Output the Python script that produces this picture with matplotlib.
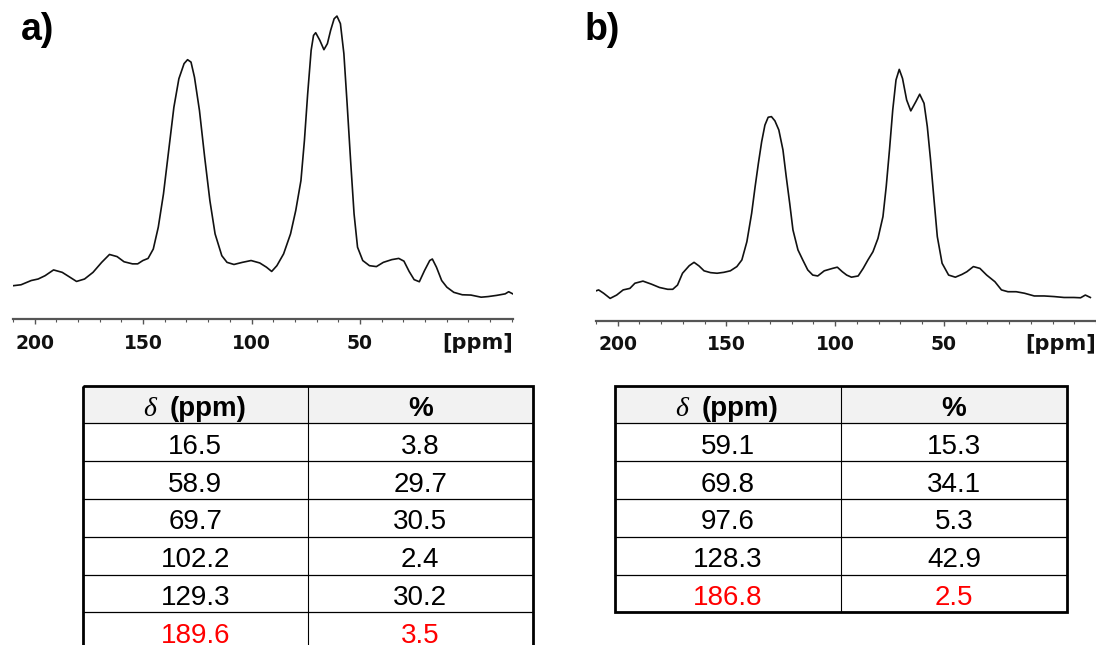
import numpy as np
import matplotlib.pyplot as plt
from matplotlib.patches import Rectangle

W, H = 1096, 645

# spectrum a): shift (ppm) / intensity (a.u., tallest peak = 100)
shift_a = [209.8, 206.3, 201.6, 198.4, 195.2, 191.3, 187.3, 184.2, 180.7, 177.0,
           173.1, 169.1, 165.5, 162.0, 158.8, 154.9, 152.5, 150.1, 147.7, 145.3,
           143.0, 140.6, 138.2, 135.8, 133.5, 131.1, 129.5, 127.9, 126.3, 124.0,
           121.6, 119.2, 116.8, 113.7, 111.3, 108.1, 104.2, 100.2, 96.2, 93.1,
           90.7, 88.3, 85.2, 82.0, 79.6, 77.2, 75.6, 74.1, 72.5, 71.4,
           70.4, 68.5, 66.6, 65.0, 63.5, 61.9, 60.6, 59.0, 57.4, 55.9,
           54.3, 52.7, 51.1, 48.7, 45.6, 42.4, 39.2, 35.3, 32.1, 29.7,
           27.3, 25.0, 22.6, 20.2, 17.8, 16.6, 14.7, 12.3, 9.9, 6.7,
           2.8, -1.2, -5.9, -9.1, -13.1, -17.0, -18.6, -20.5]
int_a = [11.0, 11.3, 12.7, 13.2, 14.3, 16.2, 15.4, 14.0, 12.4, 13.2,
         15.4, 18.7, 21.3, 20.6, 18.9, 18.2, 18.2, 19.3, 20.0, 23.1,
         30.3, 41.3, 55.6, 69.9, 79.3, 84.3, 85.6, 84.8, 79.8, 68.8,
         53.4, 39.1, 28.1, 20.9, 18.7, 18.0, 18.7, 19.3, 18.5, 17.1,
         15.7, 17.6, 21.5, 28.1, 35.8, 45.7, 58.9, 74.3, 88.7, 93.6,
         94.5, 92.0, 88.9, 90.9, 95.3, 99.1, 100.0, 97.5, 87.6, 71.0,
         52.3, 34.7, 23.7, 19.3, 17.6, 17.3, 18.7, 19.6, 20.0, 19.1,
         15.7, 13.0, 12.3, 16.0, 19.3, 19.8, 17.1, 12.7, 10.5, 8.8,
         8.0, 7.9, 7.2, 7.4, 7.8, 8.3, 9.0, 8.3]

# spectrum b)
shift_b = [210.3, 208.8, 206.5, 203.5, 200.5, 197.5, 194.4, 192.1, 188.4, 184.5,
           180.8, 177.0, 174.7, 172.5, 170.2, 167.1, 164.9, 162.6, 160.3, 157.3,
           154.3, 151.2, 148.2, 145.2, 142.9, 140.6, 138.4, 136.8, 135.3, 133.8,
           132.3, 130.8, 129.3, 127.7, 125.9, 124.0, 122.5, 120.9, 119.4, 117.1,
           114.9, 112.6, 110.3, 108.0, 105.0, 101.2, 99.0, 96.7, 94.7, 92.5,
           89.4, 87.1, 84.9, 82.6, 80.3, 78.0, 76.5, 75.0, 73.5, 72.0,
           70.5, 69.0, 67.1, 65.2, 62.9, 61.1, 59.1, 57.6, 56.1, 54.5,
           53.0, 50.8, 47.8, 44.7, 41.7, 39.4, 36.4, 33.4, 30.3, 26.5,
           23.5, 20.5, 16.7, 12.9, 8.4, 3.8, -0.7, -5.3, -9.8, -12.9,
           -15.1, -17.4]
int_b = [9.7, 10.1, 9.0, 7.3, 8.4, 10.1, 10.6, 12.3, 13.0, 12.0,
         10.9, 10.3, 10.3, 11.7, 15.6, 18.1, 19.2, 18.0, 16.4, 15.8,
         15.6, 15.9, 16.4, 17.8, 20.0, 26.0, 35.4, 44.2, 51.9, 59.0,
         64.5, 67.1, 67.3, 65.9, 62.9, 56.3, 47.5, 38.7, 29.9, 23.3,
         20.0, 16.7, 15.0, 14.7, 16.4, 17.2, 17.6, 16.1, 15.0, 14.3,
         14.7, 17.2, 20.0, 22.7, 27.1, 34.3, 44.2, 56.3, 69.5, 79.4,
         82.9, 79.9, 72.8, 69.2, 72.2, 74.7, 71.7, 64.0, 53.0, 39.8,
         27.7, 18.9, 15.0, 14.3, 15.2, 16.1, 17.8, 17.2, 15.0, 12.8,
         10.1, 9.5, 9.5, 9.0, 8.1, 8.1, 7.9, 7.6, 7.6, 7.5,
         8.4, 7.6]

major_ticks = [200, 150, 100, 50]
major_labels = ["200", "150", "100", "50"]

table_a_shift = ["16.5", "58.9", "69.7", "102.2", "129.3", "189.6"]
table_a_pct = ["3.8", "29.7", "30.5", "2.4", "30.2", "3.5"]
table_b_shift = ["59.1", "69.8", "97.6", "128.3", "186.8"]
table_b_pct = ["15.3", "34.1", "5.3", "42.9", "2.5"]


def px_box(left, right, bottom, top):
    # pixel box (y measured from top) -> figure fraction
    return [left / W, 1 - bottom / H, (right - left) / W, (bottom - top) / H]


def spectrum(fig, box, x, y, xlim, ytop):
    ax = fig.add_axes(px_box(*box))
    ax.plot(x, y, color="#111111", lw=1.2, solid_joinstyle="round")
    ax.set_xlim(*xlim)
    ax.set_ylim(0, ytop)
    for s in ("top", "left", "right"):
        ax.spines[s].set_visible(False)
    ax.spines["bottom"].set_color("#555555")
    ax.spines["bottom"].set_linewidth(1.6)
    ax.set_yticks([])
    ax.set_xticks(major_ticks)
    ax.set_xticklabels(major_labels, fontsize=13.5, fontweight="bold",
                       family="DejaVu Sans", color="#111111")
    ax.set_xticks(np.arange(-20, 211, 10), minor=True)
    ax.tick_params(axis="x", which="major", length=3.5, width=1.0,
                   color="#555555", pad=7)
    ax.tick_params(axis="x", which="minor", length=2.5, width=0.8,
                   color="#555555")
    ax.text(1.0, -0.045, "[ppm]", transform=ax.transAxes, ha="right", va="top",
            fontsize=15, fontweight="bold", family="DejaVu Sans", color="#111111")
    return ax


def table(ax, left, top, col_w, shifts, pcts):
    head_h, row_h = 37.8, 37.8
    n = len(shifts)
    bottom = top + head_h + n * row_h
    ax.add_patch(Rectangle((left, top), 2 * col_w, head_h, facecolor="#f2f2f2",
                           edgecolor="none", zorder=1))
    for k in range(n):
        yl = top + head_h + k * row_h
        ax.plot([left, left + 2 * col_w], [yl, yl], color="black", lw=0.9, zorder=2)
    ax.plot([left + col_w, left + col_w], [top, bottom], color="black", lw=0.8, zorder=2)
    ax.add_patch(Rectangle((left, top), 2 * col_w, bottom - top, facecolor="none",
                           edgecolor="black", lw=2.0, zorder=3))
    c1 = left + col_w / 2
    c2 = left + 1.5 * col_w
    base = top + 30.5
    ax.text(c1 - 46, base, "δ", ha="center", va="baseline", fontsize=20,
            family="Liberation Serif", style="italic")
    ax.text(c1 - 26, base, "(ppm)", ha="left", va="baseline", fontsize=20,
            family="Liberation Sans", fontweight="bold")
    ax.text(c2, base, "%", ha="center", va="baseline", fontsize=20,
            family="Liberation Sans", fontweight="bold")
    for k in range(n):
        colr = "#ff0000" if k == n - 1 else "black"
        yb = top + head_h + k * row_h + 30.5
        ax.text(c1, yb, shifts[k], ha="center", va="baseline", fontsize=20,
                family="Liberation Sans", color=colr)
        ax.text(c2, yb, pcts[k], ha="center", va="baseline", fontsize=20,
                family="Liberation Sans", color=colr)


fig = plt.figure(figsize=(W / 100, H / 100), dpi=100)

spectrum(fig, (13, 513, 319, 10), shift_a, int_a, (209.9, -20.6), 102.0)
spectrum(fig, (596, 1096, 320.5, 10), shift_b, int_b, (209.9, -17.4), 102.5)

over = fig.add_axes([0, 0, 1, 1])
over.set_xlim(0, W)
over.set_ylim(H, 0)
over.axis("off")

over.text(21, 40, "a)", fontsize=27, fontweight="bold", family="Liberation Sans",
          va="baseline", ha="left")
over.text(585, 40, "b)", fontsize=27, fontweight="bold", family="Liberation Sans",
          va="baseline", ha="left")

table(over, 82.7, 385.5, 225.0, table_a_shift, table_a_pct)
table(over, 615.0, 385.5, 226.0, table_b_shift, table_b_pct)

fig.savefig("out.png", dpi=100)
